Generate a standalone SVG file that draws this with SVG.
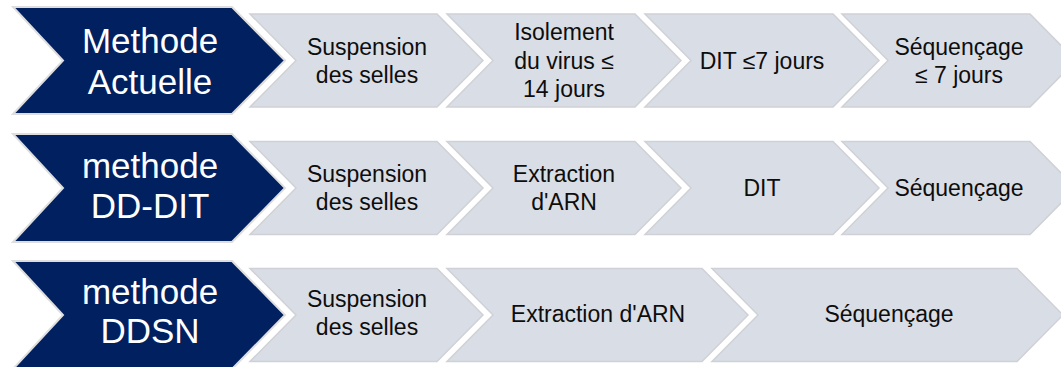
<svg xmlns="http://www.w3.org/2000/svg" width="1061" height="367" viewBox="0 0 1061 367">
  <style>
    .head { fill: #002060; stroke: #dedede; stroke-width: 2; stroke-linejoin: miter; }
    .step { fill: #d9dde5; stroke: #cfd1d6; stroke-width: 1.5; stroke-linejoin: miter; }
    .ht { font-family: "Liberation Sans", Arial, sans-serif; font-size: 35px; fill: #ffffff; text-anchor: middle; }
    .st { font-family: "Liberation Sans", Arial, sans-serif; font-size: 23px; fill: #0d0d0d; text-anchor: middle; }
  </style>
  <rect width="1061" height="367" fill="#ffffff"/>

  <!-- Row 1: current method -->
  <g id="row1-steps">
    <g id="r1-suspension">
      <polygon class="step" points="250,14 437,14 483,60.5 437,107 250,107 296,60.5"/>
      <text class="st" x="367" y="55">Suspension</text>
      <text class="st" x="367" y="83">des selles</text>
    </g>
    <g id="r1-isolement">
      <polygon class="step" points="447,14 635,14 681,60.5 635,107 447,107 493,60.5"/>
      <text class="st" x="564" y="40">Isolement</text>
      <text class="st" x="564" y="69">du virus ≤</text>
      <text class="st" x="564" y="97">14 jours</text>
    </g>
    <g id="r1-dit">
      <polygon class="step" points="645,14 833,14 879,60.5 833,107 645,107 691,60.5"/>
      <text class="st" x="762" y="69">DIT ≤7 jours</text>
    </g>
    <g id="r1-sequencage">
      <polygon class="step" points="842,14 1030,14 1076,60.5 1030,107 842,107 888,60.5"/>
      <text class="st" x="959" y="55">Séquençage</text>
      <text class="st" x="959" y="83">≤ 7 jours</text>
    </g>
  </g>
  <g id="row1-head">
    <polygon class="head" points="13,7 232,7 285,60.5 232,114 13,114 63,60.5"/>
    <text class="ht" x="150" y="53">Methode</text>
    <text class="ht" x="150" y="94">Actuelle</text>
  </g>

  <!-- Row 2: DD-DIT method -->
  <g id="row2-steps">
    <g id="r2-suspension">
      <polygon class="step" points="250,141.5 437,141.5 483,188 437,234.5 250,234.5 296,188"/>
      <text class="st" x="367" y="182">Suspension</text>
      <text class="st" x="367" y="210">des selles</text>
    </g>
    <g id="r2-extraction">
      <polygon class="step" points="447,141.5 635,141.5 681,188 635,234.5 447,234.5 493,188"/>
      <text class="st" x="564" y="182">Extraction</text>
      <text class="st" x="564" y="210">d'ARN</text>
    </g>
    <g id="r2-dit">
      <polygon class="step" points="645,141.5 833,141.5 879,188 833,234.5 645,234.5 691,188"/>
      <text class="st" x="762" y="196">DIT</text>
    </g>
    <g id="r2-sequencage">
      <polygon class="step" points="842,141.5 1030,141.5 1076,188 1030,234.5 842,234.5 888,188"/>
      <text class="st" x="959" y="196">Séquençage</text>
    </g>
  </g>
  <g id="row2-head">
    <polygon class="head" points="13,134 232,134 285,188 232,242 13,242 63,188"/>
    <text class="ht" x="150" y="178">methode</text>
    <text class="ht" x="150" y="218">DD-DIT</text>
  </g>

  <!-- Row 3: DDSN method -->
  <g id="row3-steps">
    <g id="r3-suspension">
      <polygon class="step" points="250,268.5 437,268.5 483,315 437,361.5 250,361.5 296,315"/>
      <text class="st" x="367" y="307">Suspension</text>
      <text class="st" x="367" y="335">des selles</text>
    </g>
    <g id="r3-extraction">
      <polygon class="step" points="447,268.5 702,268.5 748,315 702,361.5 447,361.5 493,315"/>
      <text class="st" x="598" y="322">Extraction d'ARN</text>
    </g>
    <g id="r3-sequencage">
      <polygon class="step" points="712,268.5 1017,268.5 1063,315 1017,361.5 712,361.5 758,315"/>
      <text class="st" x="889" y="322">Séquençage</text>
    </g>
  </g>
  <g id="row3-head">
    <polygon class="head" points="13,261 232,261 285,315 232,369 13,369 63,315"/>
    <text class="ht" x="150" y="304">methode</text>
    <text class="ht" x="150" y="343">DDSN</text>
  </g>

  <!-- no connectors: steps abut directly -->
  <g id="connectors"/>
</svg>
